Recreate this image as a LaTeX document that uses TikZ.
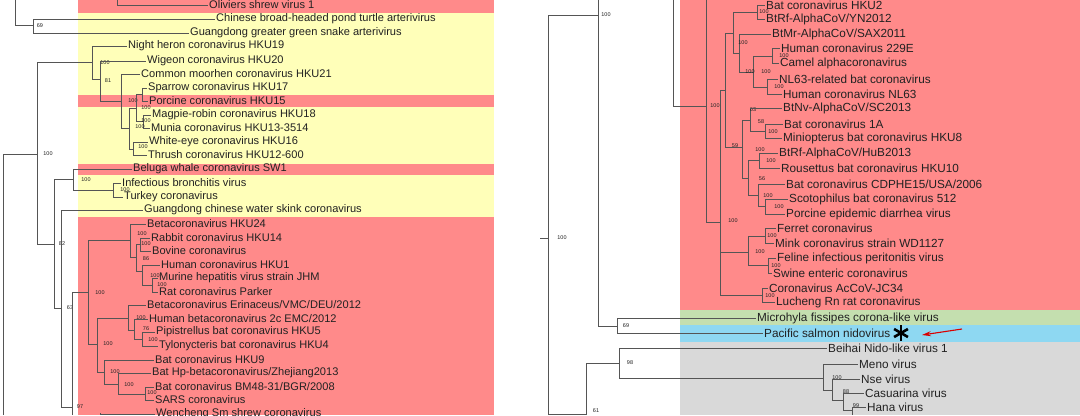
\documentclass[tikz,border=0pt]{standalone}
\usepackage{fontspec}
\setmainfont{Liberation Sans}
\usetikzlibrary{arrows.meta,calc}
\definecolor{pk}{HTML}{FF8A8A}
\definecolor{yl}{HTML}{FFFFB9}
\definecolor{gn}{HTML}{C4DFAF}
\definecolor{bl}{HTML}{8ED8F2}
\definecolor{gy}{HTML}{D9D9D9}
\definecolor{brc}{HTML}{555555}
\definecolor{txc}{HTML}{222222}
\tikzset{
 br/.style={draw=brc,line width=0.7pt},
 lab/.style={font=\fontsize{11.1}{12}\selectfont,text=txc,inner sep=1pt},
 labR/.style={font=\fontsize{11.8}{12}\selectfont,text=txc,inner sep=1pt},
 bs/.style={font=\fontsize{5.5}{6}\selectfont,text=txc,inner sep=0pt}
}
\newcommand\Lf[6][lab]{\node[#1,anchor=west] (#2) at (#4,#5) {#6}; \draw[br] (#3,#5) -- (#2.west);}
\newcommand\Vt[3]{\draw[br] (#1,#2) -- (#1,#3);}
\newcommand\Hz[3]{\draw[br] (#1,#3) -- (#2,#3);}
\newcommand\Bs[3]{\node[bs] at (#1,#2) {#3};}
\begin{document}
\begin{tikzpicture}[x=1bp,y=-1bp]
\useasboundingbox (0,0) rectangle (1080,415);
\fill[white] (0,0) rectangle (1080,415);
% left bands
\fill[pk] (78,0) rectangle (494,13);
\fill[yl] (78,13) rectangle (494,95);
\fill[pk] (78,95) rectangle (494,107);
\fill[yl] (78,107) rectangle (494,164);
\fill[pk] (78,164) rectangle (494,175);
\fill[yl] (78,175) rectangle (494,217);
\fill[pk] (78,217) rectangle (494,415);
% right bands
\fill[pk] (680,0) rectangle (1080,310);
\fill[gn] (680,310) rectangle (1080,325);
\fill[bl] (680,325) rectangle (1080,342);
\fill[gy] (680,342) rectangle (1080,415);

% ===== left tree =====
\Vt{117}{0}{5}
\Lf{a1}{117}{208}{5}{Oliviers shrew virus 1}
\Vt{15}{0}{25}\Hz{15}{33}{25}\Vt{33}{19}{33}\Bs{40}{26}{69}
\Lf{a2}{33}{215}{19}{Chinese broad-headed pond turtle arterivirus}
\Lf{a3}{33}{189}{33}{Guangdong greater green snake arterivirus}
\Vt{3}{154}{415}\Hz{3}{37}{154}
\Vt{37}{62}{244}\Bs{48}{154}{100}
\Hz{37}{92}{62}\Vt{92}{46}{79}
\Lf{a4}{92}{127}{46}{Night heron coronavirus HKU19}
\Hz{92}{100}{79}\Vt{100}{61}{101}\Bs{105}{63}{100}
\Lf{a5}{100}{146}{61}{Wigeon coronavirus HKU20}
\Hz{100}{121}{101}\Bs{108}{81}{81}\Vt{121}{74}{128}
\Lf{a6}{121}{140}{74}{Common moorhen coronavirus HKU21}
\Hz{121}{129}{128}\Vt{129}{108}{149}\Bs{133}{101}{100}
\Hz{129}{136}{108}\Vt{136}{94}{121}
\Hz{136}{142}{94}\Vt{142}{88}{101}\Bs{146}{108}{100}
\Lf{a7}{142}{147}{88}{Sparrow coronavirus HKU17}
\Lf{a8}{142}{148}{101}{Porcine coronavirus HKU15}
\Hz{136}{143}{121}\Vt{143}{115}{128}\Bs{146}{121}{100}\Bs{140}{127}{100}
\Lf{a9}{143}{151}{115}{Magpie-robin coronavirus HKU18}
\Lf{a10}{143}{150}{128}{Munia coronavirus HKU13-3514}
\Hz{129}{133}{149}\Vt{133}{142}{155}\Bs{143}{147}{100}
\Lf{a11}{133}{148}{142}{White-eye coronavirus HKU16}
\Lf{a12}{133}{147}{155}{Thrush coronavirus HKU12-600}
\Hz{37}{54}{244}\Vt{54}{179}{308}\Bs{62}{244}{82}
\Hz{54}{73}{179}\Vt{73}{169}{190}\Bs{86}{180}{100}
\Lf{a13}{73}{132}{169}{Beluga whale coronavirus SW1}
\Hz{73}{113}{190}\Vt{113}{183}{197}\Bs{125}{190}{100}
\Lf{a14}{113}{121}{183}{Infectious bronchitis virus}
\Lf{a15}{113}{123}{197}{Turkey coronavirus}
\Hz{54}{61}{308}\Vt{61}{210}{407}\Bs{70}{308}{63}
\Lf{a16}{61}{143}{210}{Guangdong chinese water skink coronavirus}
\Hz{61}{72}{407}\Vt{72}{292}{415}\Bs{80}{407}{97}
\Hz{72}{88}{292}\Vt{88}{240}{344}\Bs{100}{293}{100}
\Hz{88}{130}{240}\Vt{130}{224}{257}
\Lf{a17}{130}{146}{224}{Betacoronavirus HKU24}
\Hz{130}{136}{257}\Vt{136}{244}{271}
\Hz{136}{140}{244}\Vt{140}{238}{251}\Bs{142}{234}{100}\Bs{146}{244}{100}
\Lf{a18}{140}{150}{238}{Rabbit coronavirus HKU14}
\Lf{a19}{140}{151}{251}{Bovine coronavirus}
\Hz{136}{142}{271}\Vt{142}{265}{285}\Bs{146}{259}{86}
\Lf{a20}{142}{160}{265}{Human coronavirus HKU1}
\Hz{142}{152}{285}\Vt{152}{278}{292}\Bs{155}{276}{100}\Bs{162}{285}{100}
\Lf{a21}{152}{158}{278}{Murine hepatitis virus strain JHM}
\Lf{a22}{152}{158}{292}{Rat coronavirus Parker}
\Hz{88}{97}{344}\Vt{97}{318}{372}\Bs{108}{344}{100}
\Hz{97}{128}{318}\Vt{128}{305}{330}
\Lf{a23}{128}{146}{305}{Betacoronavirus Erinaceus/VMC/DEU/2012}
\Hz{128}{134}{330}\Vt{134}{319}{339}\Bs{141}{318}{100}
\Lf{a24}{134}{148}{319}{Human betacoronavirus 2c EMC/2012}
\Hz{134}{142}{339}\Vt{142}{332}{346}\Bs{146}{329}{76}\Bs{153}{340}{100}
\Lf{a25}{142}{155}{332}{Pipistrellus bat coronavirus HKU5}
\Lf{a26}{142}{158}{346}{Tylonycteris bat coronavirus HKU4}
\Hz{97}{104}{372}\Vt{104}{360}{384}\Bs{115}{372}{100}
\Lf{a27}{104}{154}{360}{Bat coronavirus HKU9}
\Hz{104}{118}{384}\Vt{118}{373}{394}\Bs{129}{385}{100}
\Lf{a28}{118}{151}{373}{Bat Hp-betacoronavirus/Zhejiang2013}
\Hz{118}{145}{394}\Vt{145}{387}{400}\Bs{152}{393}{100}
\Lf{a29}{145}{154}{387}{Bat coronavirus BM48-31/BGR/2008}
\Lf{a30}{145}{154}{400}{SARS coronavirus}
\Vt{100}{413}{415}
\Lf{a31}{100}{155}{414}{Wencheng Sm shrew coronavirus}

% ===== right tree =====
\Vt{548}{15}{415}\Hz{540}{548}{238}\Bs{562}{238}{100}
\Hz{548}{598}{15}\Bs{606}{15}{100}\Vt{598}{0}{326}
\Vt{673}{0}{106}\Hz{673}{706}{106}\Bs{715}{106}{100}
\Hz{598}{617}{326}\Vt{617}{318}{333}\Bs{626}{326}{69}
\Lf[labR]{b22}{617}{756}{318}{Microhyla fissipes corona-like virus}
\Lf[labR]{b23}{617}{763}{333}{Pacific salmon nidovirus}
\Hz{548}{586}{414}\Vt{586}{363}{415}\Bs{596}{411}{61}
\Hz{586}{619}{363}\Vt{619}{348}{378}\Bs{630}{363}{98}
\Lf[labR]{b24}{619}{827}{348}{Beihai Nido-like virus 1}
\Hz{619}{823}{378}\Vt{823}{364}{390}
\Lf[labR]{b25}{823}{858}{364}{Meno virus}
\Hz{823}{832}{390}\Vt{832}{379}{400}\Bs{837}{378}{100}
\Lf[labR]{b26}{832}{860}{379}{Nse virus}
\Hz{832}{843}{400}\Vt{843}{393}{410}\Bs{846}{392}{88}
\Lf[labR]{b27}{843}{864}{393}{Casuarina virus}
\Hz{843}{852}{410}\Vt{852}{407}{415}\Bs{856}{406}{99}
\Lf[labR]{b28}{852}{866}{407}{Hana virus}
% alpha clade
\Vt{706}{0}{222}\Hz{706}{720}{222}\Bs{733}{221}{100}
\Vt{720}{90}{295}
\Hz{720}{725}{90}\Vt{725}{33}{147}
\Hz{725}{733}{33}\Vt{733}{12}{53}
\Hz{733}{757}{12}\Vt{757}{5}{19}\Bs{764}{12}{100}
\Lf[labR]{b1}{757}{765}{5}{Bat coronavirus HKU2}
\Lf[labR]{b2}{757}{765}{19}{BtRf-AlphaCoV/YN2012}
\Hz{733}{739}{53}\Vt{739}{34}{72}\Bs{743}{43}{100}
\Lf[labR]{b3}{739}{771}{34}{BtMr-AlphaCoV/SAX2011}
\Hz{739}{753}{72}\Vt{753}{56}{87}\Bs{750}{72}{100}\Bs{766}{72}{100}
\Hz{753}{772}{56}\Vt{772}{48}{63}\Bs{784}{56}{100}
\Lf[labR]{b4}{772}{780}{48}{Human coronavirus 229E}
\Lf[labR]{b5}{772}{779}{63}{Camel alphacoronavirus}
\Hz{753}{767}{87}\Vt{767}{79}{94}\Bs{779}{87}{100}
\Lf[labR]{b6}{767}{778}{79}{NL63-related bat coronavirus}
\Lf[labR]{b7}{767}{782}{94}{Human coronavirus NL63}
\Hz{725}{742}{147}\Bs{735}{146}{59}\Vt{742}{120}{178}
\Hz{742}{750}{120}\Vt{750}{108}{131}\Bs{753}{110}{63}
\Lf[labR]{b8}{750}{782}{108}{BtNv-AlphaCoV/SC2013}
\Hz{750}{765}{131}\Bs{761}{122}{58}\Vt{765}{124}{138}\Bs{773}{132}{100}
\Lf[labR]{b9}{765}{783}{124}{Bat coronavirus 1A}
\Lf[labR]{b10}{765}{782}{138}{Miniopterus bat coronavirus HKU8}
\Hz{742}{748}{178}\Vt{748}{160}{195}
\Hz{748}{759}{160}\Vt{759}{153}{168}\Bs{760}{150}{100}\Bs{771}{161}{100}
\Lf[labR]{b11}{759}{778}{153}{BtRf-AlphaCoV/HuB2013}
\Lf[labR]{b12}{759}{780}{168}{Rousettus bat coronavirus HKU10}
\Hz{748}{758}{195}\Vt{758}{184}{206}\Bs{762}{179}{56}
\Lf[labR]{b13}{758}{785}{184}{Bat coronavirus CDPHE15/USA/2006}
\Hz{758}{765}{206}\Vt{765}{199}{214}\Bs{768}{196}{100}\Bs{779}{207}{100}
\Lf[labR]{b14}{765}{788}{199}{Scotophilus bat coronavirus 512}
\Lf[labR]{b15}{765}{785}{214}{Porcine epidemic diarrhea virus}
\Hz{720}{748}{252}\Vt{748}{236}{265}\Bs{760}{252}{100}
\Hz{748}{765}{236}\Vt{765}{228}{243}\Bs{772}{236}{100}
\Lf[labR]{b16}{765}{776}{228}{Ferret coronavirus}
\Lf[labR]{b17}{765}{774}{243}{Mink coronavirus strain WD1127}
\Hz{748}{768}{265}\Vt{768}{258}{273}\Bs{776}{266}{100}
\Lf[labR]{b18}{768}{776}{258}{Feline infectious peritonitis virus}
\Lf[labR]{b19}{768}{772}{273}{Swine enteric coronavirus}
\Hz{720}{762}{295}\Vt{762}{288}{302}\Bs{770}{296}{100}
\Lf[labR]{b20}{762}{768}{288}{Coronavirus AcCoV-JC34}
\Lf[labR]{b21}{762}{775}{302}{Lucheng Rn rat coronavirus}
% asterisk and arrow
\coordinate (st) at (901,333);
\foreach \a in {90,30,-30}{\draw[line width=2.6pt,black] ($(st)+(\a:8)$) -- ($(st)+(\a+180:8)$);}
\coordinate (ar1) at (962,329);
\coordinate (ar2) at (922,335);
\draw[red!85!black,line width=1.1pt,-{Stealth[length=9pt,width=5pt]}] (ar1) -- (ar2);
\end{tikzpicture}
\end{document}
